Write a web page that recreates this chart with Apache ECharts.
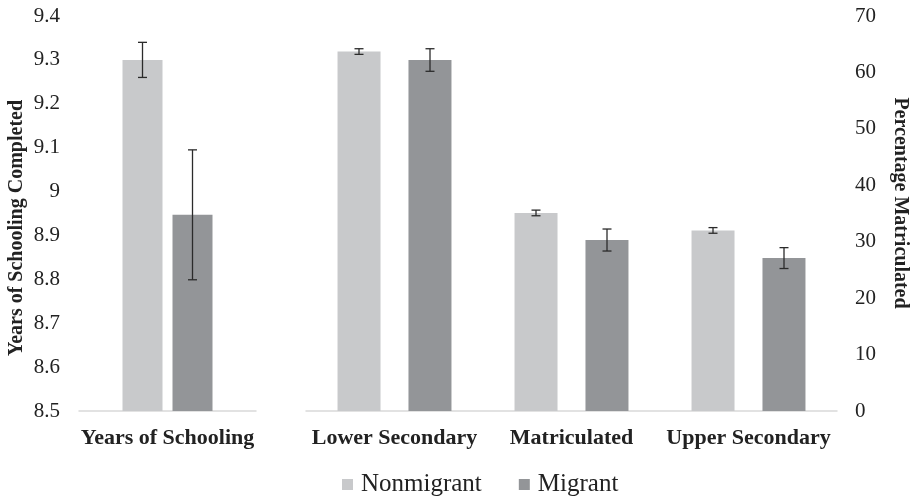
<!DOCTYPE html>
<html>
<head>
<meta charset="utf-8">
<script src="https://cdn.jsdelivr.net/npm/echarts@6/dist/echarts.min.js"></script>
<style>
html,body{margin:0;padding:0;background:#fff;}
#c{width:914px;height:503px;}
</style>
</head>
<body>
<div id="c"></div>
<script>
// ---- data ----
var leftCategories = ['Years of Schooling'];
var rightCategories = ['Lower Secondary', 'Matriculated', 'Upper Secondary'];
var seriesNames = ['Nonmigrant', 'Migrant'];
var leftTitle = 'Years of Schooling Completed';
var rightTitle = 'Percentage Matriculated';

var yearsNonmigrant = [9.30];
var yearsNonmigrantErr = [0.040];
var yearsMigrant = [8.947];
var yearsMigrantErr = [0.148];

var pctNonmigrant = [63.7, 35.1, 32.0];
var pctNonmigrantErr = [0.5, 0.5, 0.5];
var pctMigrant = [62.2, 30.3, 27.1];
var pctMigrantErr = [2.0, 1.95, 1.85];

var leftTicks = {min: 8.5, max: 9.4, interval: 0.1};
var rightTicks = {min: 0, max: 70, interval: 10};

// ---- styles ----
var COL_NON = '#C8C9CB';
var COL_MIG = '#939598';
var FONT = '"Liberation Serif", "Times New Roman", serif';

function errSeries(name, xi, vals, errs, offset) {
  var data = vals.map(function (v, i) { return [i, v - errs[i], v + errs[i]]; });
  return {
    type: 'custom',
    name: name + ' err',
    xAxisIndex: xi, yAxisIndex: xi,
    data: data,
    z: 10,
    silent: true,
    renderItem: function (params, api) {
      var lo = api.coord([api.value(0), api.value(1)]);
      var hi = api.coord([api.value(0), api.value(2)]);
      var x = lo[0] + offset;
      var cap = 4.5;
      var st = {stroke: '#2b2b2b', lineWidth: 1.3};
      return {
        type: 'group',
        children: [
          {type: 'line', shape: {x1: x, y1: lo[1], x2: x, y2: hi[1]}, style: st},
          {type: 'line', shape: {x1: x - cap, y1: lo[1], x2: x + cap, y2: lo[1]}, style: st},
          {type: 'line', shape: {x1: x - cap, y1: hi[1], x2: x + cap, y2: hi[1]}, style: st}
        ]
      };
    }
  };
}

var catAxisCommon = {
  type: 'category',
  axisLine: {lineStyle: {color: '#D9D9D9', width: 1.5}},
  axisTick: {show: false},
  axisLabel: {color: '#222', fontFamily: FONT, fontWeight: 'bold', fontSize: 22, margin: 16, interval: 0}
};
var valAxisCommon = {
  type: 'value',
  splitLine: {show: false},
  axisLine: {show: false},
  axisTick: {show: false}
};

var chart = echarts.init(document.getElementById('c'));
chart.setOption({
  animation: false,
  backgroundColor: '#fff',
  grid: [
    {left: 79, width: 177, top: 16, height: 395},
    {left: 306, right: 77, top: 16, height: 395}
  ],
  legend: {
    data: seriesNames,
    top: 472,
    left: 342,
    padding: 0,
    itemWidth: 11, itemHeight: 11, itemGap: 37,
    icon: 'rect',
    textStyle: {color: '#222', fontFamily: FONT, fontSize: 25, padding: [0, 0, 0, 3]}
  },
  graphic: [
    {type: 'text', x: 17, y: 228, rotation: Math.PI / 2,
     style: {text: leftTitle, fill: '#222', font: 'bold 20px ' + FONT, textAlign: 'center', textVerticalAlign: 'middle'}},
    {type: 'text', x: 900, y: 203, rotation: -Math.PI / 2,
     style: {text: rightTitle, fill: '#222', font: 'bold 20px ' + FONT, textAlign: 'center', textVerticalAlign: 'middle'}}
  ],
  xAxis: [
    Object.assign({}, catAxisCommon, {gridIndex: 0, data: leftCategories}),
    Object.assign({}, catAxisCommon, {gridIndex: 1, data: rightCategories})
  ],
  yAxis: [
    Object.assign({}, valAxisCommon, {
      gridIndex: 0, position: 'left',
      min: leftTicks.min, max: leftTicks.max, interval: leftTicks.interval,
      axisLabel: {color: '#222', fontFamily: FONT, fontSize: 21, margin: 19}
    }),
    Object.assign({}, valAxisCommon, {
      gridIndex: 1, position: 'right',
      min: rightTicks.min, max: rightTicks.max, interval: rightTicks.interval,
      axisLabel: {color: '#222', fontFamily: FONT, fontSize: 21, margin: 18}
    })
  ],
  series: [
    {type: 'bar', name: seriesNames[0], xAxisIndex: 0, yAxisIndex: 0, data: yearsNonmigrant,
     barWidth: 40, barGap: '25%', itemStyle: {color: COL_NON}},
    {type: 'bar', name: seriesNames[1], xAxisIndex: 0, yAxisIndex: 0, data: yearsMigrant,
     barWidth: 40, barGap: '25%', itemStyle: {color: COL_MIG}},
    {type: 'bar', name: seriesNames[0], xAxisIndex: 1, yAxisIndex: 1, data: pctNonmigrant,
     barWidth: 43, barGap: '65%', itemStyle: {color: COL_NON}},
    {type: 'bar', name: seriesNames[1], xAxisIndex: 1, yAxisIndex: 1, data: pctMigrant,
     barWidth: 43, barGap: '65%', itemStyle: {color: COL_MIG}},
    errSeries('Nonmigrant', 0, yearsNonmigrant, yearsNonmigrantErr, -25),
    errSeries('Migrant', 0, yearsMigrant, yearsMigrantErr, 25),
    errSeries('Nonmigrant', 1, pctNonmigrant, pctNonmigrantErr, -35.5),
    errSeries('Migrant', 1, pctMigrant, pctMigrantErr, 35.5)
  ]
});
</script>
</body>
</html>
